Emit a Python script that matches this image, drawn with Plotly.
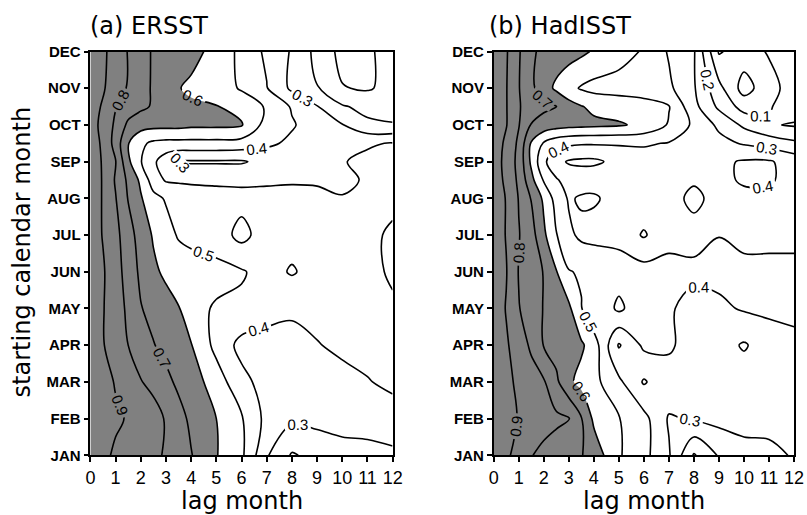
import plotly.graph_objects as go

# lag (months) and starting calendar month (0=JAN ... 11=DEC), with extra rows near SEP/OCT
lags = [0, 0.5, 1, 1.5, 2, 2.5, 3, 3.5, 4, 5, 6, 7, 8, 9, 10, 11, 12]
months = [0, 1, 2, 3, 4, 5, 6, 7, 7.5, 8, 8.5, 9, 9.5, 10, 11]
month_labels = ["JAN", "FEB", "MAR", "APR", "MAY", "JUN", "JUL", "AUG", "SEP", "OCT", "NOV", "DEC"]
lag_ticks = list(range(13))

ersst = [
    [0.95, 0.915, 0.89, 0.87, 0.845, 0.82, 0.79, 0.75, 0.705, 0.605, 0.52, 0.31, 0.19, 0.23, 0.27, 0.27, 0.28],
    [0.96, 0.935, 0.91, 0.895, 0.87, 0.845, 0.79, 0.735, 0.68, 0.60, 0.51, 0.37, 0.32, 0.33, 0.33, 0.34, 0.36],
    [0.955, 0.925, 0.895, 0.86, 0.805, 0.77, 0.725, 0.68, 0.65, 0.55, 0.43, 0.36, 0.36, 0.36, 0.37, 0.395, 0.42],
    [0.955, 0.905, 0.86, 0.80, 0.75, 0.705, 0.67, 0.64, 0.605, 0.47, 0.37, 0.37, 0.38, 0.395, 0.42, 0.43, 0.42],
    [0.95, 0.905, 0.85, 0.78, 0.705, 0.67, 0.64, 0.605, 0.53, 0.49, 0.48, 0.43, 0.41, 0.43, 0.44, 0.42, 0.41],
    [0.95, 0.91, 0.84, 0.76, 0.68, 0.62, 0.58, 0.56, 0.55, 0.53, 0.51, 0.46, 0.51, 0.46, 0.43, 0.42, 0.39],
    [0.95, 0.895, 0.83, 0.74, 0.66, 0.59, 0.54, 0.49, 0.47, 0.45, 0.37, 0.45, 0.46, 0.46, 0.45, 0.43, 0.38],
    [0.94, 0.895, 0.805, 0.695, 0.61, 0.53, 0.49, 0.47, 0.46, 0.44, 0.43, 0.43, 0.43, 0.42, 0.405, 0.42, 0.43],
    [0.94, 0.895, 0.79, 0.68, 0.58, 0.45, 0.39, 0.385, 0.38, 0.38, 0.38, 0.385, 0.39, 0.39, 0.38, 0.41, 0.42],
    [0.93, 0.895, 0.805, 0.62, 0.505, 0.42, 0.34, 0.29, 0.29, 0.29, 0.29, 0.33, 0.36, 0.38, 0.395, 0.42, 0.42],
    [0.93, 0.89, 0.76, 0.605, 0.52, 0.48, 0.47, 0.47, 0.47, 0.47, 0.46, 0.42, 0.38, 0.37, 0.38, 0.39, 0.405],
    [0.93, 0.88, 0.78, 0.68, 0.64, 0.63, 0.63, 0.63, 0.62, 0.62, 0.61, 0.46, 0.41, 0.35, 0.305, 0.22, 0.205],
    [0.94, 0.89, 0.805, 0.75, 0.72, 0.69, 0.65, 0.63, 0.62, 0.605, 0.56, 0.49, 0.39, 0.305, 0.21, 0.17, 0.17],
    [0.95, 0.91, 0.85, 0.79, 0.73, 0.69, 0.65, 0.605, 0.58, 0.55, 0.49, 0.405, 0.28, 0.205, 0.105, 0.09, 0.13],
    [0.95, 0.92, 0.855, 0.795, 0.735, 0.69, 0.675, 0.66, 0.635, 0.565, 0.475, 0.38, 0.29, 0.17, 0.07, 0.08, 0.15],
]

hadisst = [
    [0.96, 0.92, 0.86, 0.805, 0.77, 0.75, 0.73, 0.705, 0.66, 0.51, 0.43, 0.31, 0.09, 0.21, 0.25, 0.27, 0.31],
    [0.96, 0.93, 0.895, 0.87, 0.845, 0.82, 0.805, 0.705, 0.58, 0.505, 0.43, 0.29, 0.31, 0.33, 0.35, 0.34, 0.33],
    [0.96, 0.925, 0.88, 0.85, 0.81, 0.72, 0.62, 0.57, 0.53, 0.42, 0.29, 0.37, 0.37, 0.36, 0.35, 0.36, 0.38],
    [0.955, 0.91, 0.86, 0.78, 0.695, 0.66, 0.64, 0.615, 0.55, 0.29, 0.42, 0.41, 0.37, 0.34, 0.29, 0.35, 0.38],
    [0.955, 0.895, 0.805, 0.75, 0.695, 0.66, 0.62, 0.505, 0.41, 0.52, 0.43, 0.41, 0.37, 0.38, 0.41, 0.42, 0.42],
    [0.96, 0.905, 0.795, 0.75, 0.695, 0.605, 0.505, 0.49, 0.48, 0.46, 0.44, 0.43, 0.42, 0.43, 0.42, 0.42, 0.42],
    [0.955, 0.895, 0.805, 0.74, 0.62, 0.505, 0.42, 0.38, 0.37, 0.36, 0.29, 0.37, 0.37, 0.398, 0.38, 0.38, 0.38],
    [0.955, 0.895, 0.795, 0.695, 0.58, 0.46, 0.39, 0.41, 0.41, 0.37, 0.36, 0.37, 0.42, 0.37, 0.38, 0.38, 0.38],
    [0.95, 0.88, 0.78, 0.63, 0.49, 0.41, 0.36, 0.36, 0.37, 0.37, 0.38, 0.39, 0.39, 0.38, 0.41, 0.41, 0.37],
    [0.95, 0.87, 0.77, 0.58, 0.42, 0.33, 0.29, 0.28, 0.28, 0.33, 0.36, 0.37, 0.37, 0.38, 0.41, 0.41, 0.36],
    [0.955, 0.88, 0.78, 0.59, 0.49, 0.44, 0.42, 0.41, 0.41, 0.41, 0.41, 0.395, 0.37, 0.33, 0.29, 0.26, 0.22],
    [0.96, 0.905, 0.805, 0.695, 0.66, 0.64, 0.63, 0.625, 0.62, 0.61, 0.58, 0.49, 0.38, 0.28, 0.18, 0.11, 0.09],
    [0.96, 0.905, 0.81, 0.74, 0.72, 0.705, 0.64, 0.605, 0.58, 0.56, 0.54, 0.505, 0.33, 0.18, 0.06, 0.09, 0.16],
    [0.96, 0.905, 0.805, 0.72, 0.65, 0.58, 0.53, 0.49, 0.47, 0.46, 0.45, 0.42, 0.31, 0.13, -0.04, 0.06, 0.15],
    [0.96, 0.91, 0.81, 0.72, 0.67, 0.655, 0.64, 0.62, 0.59, 0.54, 0.49, 0.39, 0.31, -0.01, 0.05, 0.11, 0.18],
]

panels = [("(a) ERSST", ersst), ("(b) HadISST", hadisst)]

W, H = 807, 515


def px(x):
    return x / W


def py(y):
    return 1 - y / H


# plot-area placement (pixels of the figure)
x_domains = [[px(87), px(395)], [px(498), px(804)]]
y_domain = [py(461.5), py(44)]

TICKFONT_Y = dict(family="Liberation Sans, Arial", size=15, color="black", weight="bold")
TICKFONT_X = dict(family="Liberation Sans, Arial", size=18, color="black")
TEXTFONT = dict(family="DejaVu Sans, Verdana, sans-serif", size=24, color="black")

fig = go.Figure()
for i, (title, z) in enumerate(panels):
    xa = "x" if i == 0 else "x2"
    ya = "y" if i == 0 else "y2"
    # shaded region: values above 0.6 (plotly shades the region failing the constraint)
    fig.add_trace(go.Contour(
        x=lags, y=months, z=z, xaxis=xa, yaxis=ya,
        contours=dict(type="constraint", operation="<", value=0.6),
        fillcolor="rgb(128,128,128)", line=dict(width=0, smoothing=1),
        showscale=False, hoverinfo="skip"))
    # contour lines
    fig.add_trace(go.Contour(
        x=lags, y=months, z=z, xaxis=xa, yaxis=ya,
        autocontour=False,
        contours=dict(coloring="lines", start=0, end=0.91, size=0.1, showlabels=True,
                      labelfont=dict(family="Liberation Sans, Arial", size=15, color="black"),
                      labelformat=".1~f"),
        colorscale=[[0, "black"], [1, "black"]],
        line=dict(width=1.6, smoothing=1),
        showscale=False, hoverinfo="skip"))

axis_common = dict(showline=True, linecolor="black", linewidth=1.6, mirror=True,
                   ticks="outside", ticklen=5, tickwidth=1.5, tickcolor="black",
                   showgrid=False, zeroline=False)

layout = dict(
    width=W, height=H, margin=dict(l=0, r=0, t=0, b=0),
    paper_bgcolor="white", plot_bgcolor="white", showlegend=False,
)
for i in range(2):
    sx = "" if i == 0 else "2"
    layout["xaxis" + sx] = dict(axis_common, domain=x_domains[i], range=[0, 12],
                                tickvals=lag_ticks, ticktext=[str(t) for t in lag_ticks],
                                tickfont=TICKFONT_X, anchor="y" + sx, ticklabelstandoff=0)
    layout["yaxis" + sx] = dict(axis_common, domain=y_domain, range=[0, 11],
                                tickvals=list(range(12)), ticktext=month_labels,
                                tickfont=TICKFONT_Y, anchor="x" + sx)
fig.update_layout(**layout)

annotations = [
    dict(text="(a) ERSST", x=px(85), y=py(18), xanchor="left", yanchor="middle"),
    dict(text="(b) HadISST", x=px(491), y=py(18), xanchor="left", yanchor="middle"),
    dict(text="lag month", x=px(241), y=py(509), xanchor="center", yanchor="middle"),
    dict(text="lag month", x=px(651), y=py(509), xanchor="center", yanchor="middle"),
    dict(text="starting calendar month", x=px(17), y=py(251), xanchor="center",
         yanchor="middle", textangle=-90),
]
for a in annotations:
    fig.add_annotation(xref="paper", yref="paper", showarrow=False, font=TEXTFONT, **a)

page_fix = (
    "document.documentElement.style.margin='0px';"
    "document.documentElement.style.padding='0px';"
    "document.documentElement.style.overflow='hidden';"
    "document.body.style.margin='0px';"
    "document.body.style.padding='0px';"
    "document.body.style.overflow='hidden';"
)
fig.write_html("out.html", config={"displayModeBar": False}, post_script=page_fix)
